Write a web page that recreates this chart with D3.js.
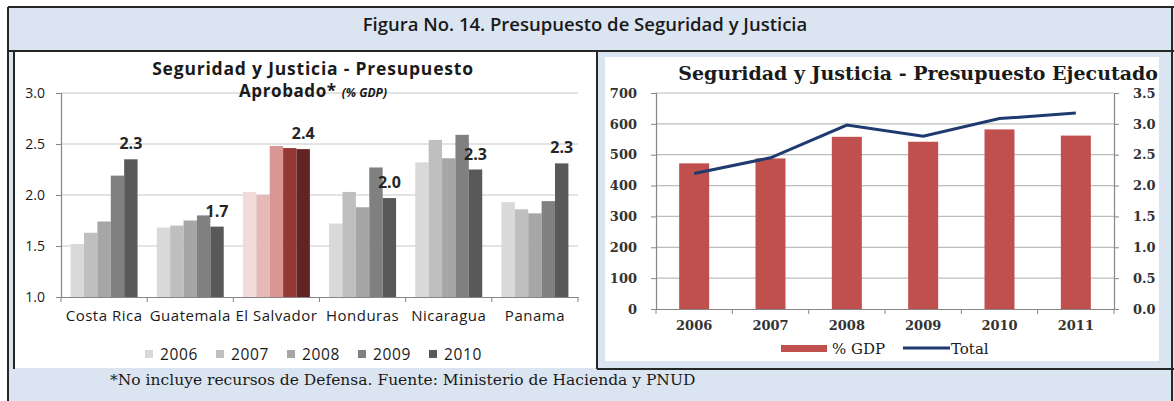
<!DOCTYPE html>
<html>
<head>
<meta charset="utf-8">
<script src="https://cdn.jsdelivr.net/npm/d3@7"></script>
<style>
  body { margin: 0; background: #fff; }
  svg { display: block; }
</style>
</head>
<body>
<div id="fig"></div>
<script>
// Left chart: approved budget (% GDP) by country and year
const countries = ["Costa Rica", "Guatemala", "El Salvador", "Honduras", "Nicaragua", "Panama"];
const years = ["2006", "2007", "2008", "2009", "2010"];
const v2006 = [1.52, 1.68, 2.03, 1.72, 2.32, 1.93];
const v2007 = [1.63, 1.70, 2.00, 2.03, 2.54, 1.86];
const v2008 = [1.74, 1.75, 2.48, 1.88, 2.36, 1.82];
const v2009 = [2.19, 1.80, 2.46, 2.27, 2.59, 1.94];
const v2010 = [2.35, 1.69, 2.45, 1.97, 2.25, 2.31];
const labels2010 = ["2.3", "1.7", "2.4", "2.0", "2.3", "2.3"];
const leftTicks = [1.0, 1.5, 2.0, 2.5, 3.0];

// Right chart: executed budget
const execYears = ["2006", "2007", "2008", "2009", "2010", "2011"];
const gdpPct = [2.36, 2.44, 2.79, 2.71, 2.91, 2.81];
const total = [439, 490, 596, 560, 617, 635];
const totalTicks = [0, 100, 200, 300, 400, 500, 600, 700];
const pctTicks = [0, 0.5, 1.0, 1.5, 2.0, 2.5, 3.0, 3.5];

const W = 1174, H = 401;
const band = "#dbe5f1", frame = "#262626";
const grays = ["#d9d9d9", "#bfbfbf", "#a6a6a6", "#808080", "#595959"];
const reds = ["#f2dcdb", "#e6b9b8", "#d99694", "#953735", "#632523"];
const sans = "'Open Sans', Lato, sans-serif";
const serif = "'DejaVu Serif', 'Liberation Serif', serif";

const svg = d3.select("#fig").append("svg")
  .attr("width", W).attr("height", H);

// frame & background bands
svg.append("rect").attr("x", 8).attr("y", 7).attr("width", 1166).attr("height", H - 7).attr("fill", band);
svg.append("rect").attr("x", 14).attr("y", 51).attr("width", 583).attr("height", 317).attr("fill", "#fff");
svg.append("rect").attr("x", 605).attr("y", 57).attr("width", 554).attr("height", 304).attr("fill", "#fff");

const lines = [
  [8, 7, 1174, 7], [8, 7, 8, H], [8, 51, 1174, 51], [14, 51, 14, 369],
  [597, 51, 597, 369], [597, 369, 1174, 369], [1172, 7, 1172, H]
];
svg.append("g").selectAll("line").data(lines).join("line")
  .attr("x1", d => d[0]).attr("y1", d => d[1]).attr("x2", d => d[2]).attr("y2", d => d[3])
  .attr("stroke", frame).attr("stroke-width", 2);

svg.append("text").attr("x", 585).attr("y", 31).attr("text-anchor", "middle")
  .attr("font-family", sans).attr("font-weight", "600").attr("font-size", 18.5)
  .attr("fill", "#1a1a1a")
  .text("Figura No. 14. Presupuesto de Seguridad y Justicia");

svg.append("text").attr("x", 110).attr("y", 385)
  .attr("font-family", serif).attr("font-size", 15.5).attr("fill", "#1a1a1a")
  .text("*No incluye recursos de Defensa. Fuente: Ministerio de Hacienda y PNUD");

// ---------- Left chart ----------
const series = [v2006, v2007, v2008, v2009, v2010];
const x0 = d3.scaleBand().domain(countries).range([61, 578]);
const x1 = d3.scaleBand().domain(years).range([9.6, x0.bandwidth() - 9.6]);
const yA = d3.scaleLinear().domain([1, 3]).range([297, 93]);

const left = svg.append("g");

left.append("g").selectAll("line").data(leftTicks.slice(1)).join("line")
  .attr("x1", 61).attr("x2", 578)
  .attr("y1", d => yA(d)).attr("y2", d => yA(d))
  .attr("stroke", "#c8c8c8").attr("stroke-width", 1.2);

left.append("g").selectAll("g").data(countries).join("g")
  .attr("transform", d => `translate(${x0(d)},0)`)
  .selectAll("rect")
  .data((c, ci) => years.map((yr, yi) => ({yr, yi, ci, v: series[yi][ci]})))
  .join("rect")
    .attr("x", d => x1(d.yr))
    .attr("width", x1.bandwidth())
    .attr("y", d => yA(d.v))
    .attr("height", d => yA(1) - yA(d.v))
    .attr("fill", d => countries[d.ci] === "El Salvador" ? reds[d.yi] : grays[d.yi]);

left.append("g").selectAll("text").data(countries).join("text")
  .attr("x", (c) => x0(c) + x1("2010") + x1.bandwidth() / 2)
  .attr("y", (c, i) => yA(v2010[i]) - 10)
  .attr("text-anchor", "middle")
  .attr("font-family", sans).attr("font-weight", "bold").attr("font-size", 16)
  .attr("fill", "#262626")
  .text((c, i) => labels2010[i]);

const axL = left.append("g").attr("transform", "translate(61,0)")
  .call(d3.axisLeft(yA).tickValues(leftTicks).tickFormat(d3.format(".1f")).tickSize(5).tickPadding(12));
const axB = left.append("g").attr("transform", "translate(0,297)")
  .call(d3.axisBottom(x0).tickSize(0).tickPadding(13));
axB.append("g").selectAll("line").data(d3.range(countries.length + 1)).join("line")
  .attr("x1", i => 61 + i * x0.step()).attr("x2", i => 61 + i * x0.step())
  .attr("y1", 0).attr("y2", 5).attr("stroke", "#868686");
[axL, axB].forEach(a => {
  a.select(".domain").attr("stroke", "#868686").attr("stroke-width", 1.2);
  a.selectAll(".tick line").attr("stroke", "#868686");
  a.selectAll("text").attr("font-family", sans).attr("font-size", 15).attr("fill", "#1a1a1a");
});
axB.selectAll("text").attr("letter-spacing", 0.5);
axL.selectAll("text").attr("text-anchor", "end").attr("x", -16).attr("font-size", 14);

left.append("text").attr("x", 313).attr("y", 75).attr("text-anchor", "middle")
  .attr("font-family", sans).attr("font-weight", "bold").attr("font-size", 17.5)
  .attr("letter-spacing", 0.8).attr("fill", "#1a1a1a")
  .text("Seguridad y Justicia - Presupuesto");
const sub = left.append("text").attr("x", 313).attr("y", 97).attr("text-anchor", "middle")
  .attr("font-family", sans).attr("font-weight", "bold").attr("font-size", 17)
  .attr("letter-spacing", 0.6).attr("fill", "#1a1a1a");
sub.append("tspan").text("Aprobado* ");
sub.append("tspan").attr("font-style", "italic").attr("font-size", 12).attr("letter-spacing", 0).text("(% GDP)");

const legL = left.append("g").selectAll("g").data(years).join("g")
  .attr("transform", (d, i) => `translate(${145 + i * 71},354)`);
legL.append("rect").attr("x", 0).attr("y", -4).attr("width", 8).attr("height", 8)
  .attr("fill", (d, i) => grays[i]);
legL.append("text").attr("x", 15).attr("y", 5.5)
  .attr("font-family", sans).attr("font-size", 15.5).attr("letter-spacing", 0.6)
  .attr("fill", "#1a1a1a").text(d => d);

// ---------- Right chart ----------
const xB = d3.scaleBand().domain(execYears).range([656, 1114]);
const yT = d3.scaleLinear().domain([0, 700]).range([309, 93]);
const yP = d3.scaleLinear().domain([0, 3.5]).range([309, 93]);
const barW = 30;

const right = svg.append("g");
right.append("g").selectAll("line").data(totalTicks.slice(1)).join("line")
  .attr("x1", 656).attr("x2", 1114)
  .attr("y1", d => yT(d)).attr("y2", d => yT(d))
  .attr("stroke", "#bdbdbd").attr("stroke-width", 1.2);

right.append("g").selectAll("rect").data(gdpPct).join("rect")
  .attr("x", (d, i) => xB(execYears[i]) + xB.bandwidth() / 2 - barW / 2)
  .attr("width", barW)
  .attr("y", d => yP(d))
  .attr("height", d => yP(0) - yP(d))
  .attr("fill", "#c0504d");

right.append("path").datum(total)
  .attr("d", d3.line().x((d, i) => xB(execYears[i]) + xB.bandwidth() / 2).y(d => yT(d)))
  .attr("fill", "none").attr("stroke", "#1f3a6e").attr("stroke-width", 3);

const axT = right.append("g").attr("transform", "translate(656,0)")
  .call(d3.axisLeft(yT).tickValues(totalTicks).tickSize(5).tickPadding(14));
const axP = right.append("g").attr("transform", "translate(1114,0)")
  .call(d3.axisRight(yP).tickValues(pctTicks).tickFormat(d3.format(".1f")).tickSize(5).tickPadding(14));
const axX = right.append("g").attr("transform", "translate(0,309)")
  .call(d3.axisBottom(xB).tickSize(0).tickPadding(12));
axX.append("g").selectAll("line").data(d3.range(execYears.length + 1)).join("line")
  .attr("x1", i => 656 + i * xB.step()).attr("x2", i => 656 + i * xB.step())
  .attr("y1", 0).attr("y2", 5).attr("stroke", "#868686");
[axT, axP, axX].forEach(a => {
  a.select(".domain").attr("stroke", "#868686").attr("stroke-width", 1.2);
  a.selectAll(".tick line").attr("stroke", "#868686");
  a.selectAll("text").attr("font-family", serif).attr("font-weight", "bold")
    .attr("font-size", 13).attr("fill", "#333");
});

right.append("text").attr("x", 1158).attr("y", 80).attr("text-anchor", "end")
  .attr("font-family", serif).attr("font-weight", "bold").attr("font-size", 19).attr("fill", "#1a1a1a")
  .text("Seguridad y Justicia - Presupuesto Ejecutado");

right.append("rect").attr("x", 781).attr("y", 345).attr("width", 46).attr("height", 7).attr("fill", "#c0504d");
right.append("text").attr("x", 832).attr("y", 354)
  .attr("font-family", serif).attr("font-size", 15).attr("fill", "#1a1a1a").text("% GDP");
right.append("line").attr("x1", 903).attr("x2", 950).attr("y1", 348).attr("y2", 348)
  .attr("stroke", "#1f3a6e").attr("stroke-width", 3);
right.append("text").attr("x", 951).attr("y", 354)
  .attr("font-family", serif).attr("font-size", 15).attr("fill", "#1a1a1a").text("Total");
</script>
</body>
</html>
